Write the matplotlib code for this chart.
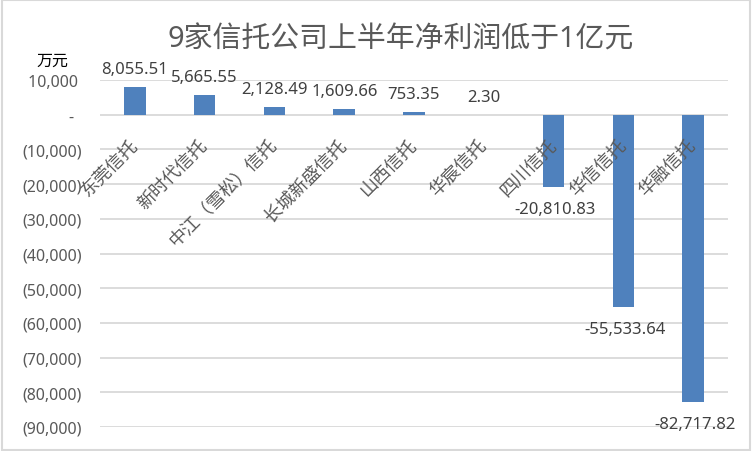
import numpy as np
import matplotlib
matplotlib.use("Agg")
import matplotlib.pyplot as plt
from matplotlib.transforms import offset_copy
from matplotlib.patches import Rectangle

plt.rcParams['font.family'] = ['Noto Sans', 'Noto Sans CJK SC', 'DejaVu Sans']

companies = ["东莞信托", "新时代信托", "中江（雪松）信托", "长城新盛信托", "山西信托",
             "华宸信托", "四川信托", "华信信托", "华融信托"]
profit = [8055.51, 5665.55, 2128.49, 1609.66, 753.35, 2.30, -20810.83, -55533.64, -82717.82]
yticks = [10000, 0, -10000, -20000, -30000, -40000, -50000, -60000, -70000, -80000, -90000]

title = "9家信托公司上半年净利润低于1亿元"
unit = "万元"

bar_color = "#4F81BD"
grid_color = "#D9D9D9"
txt_grey = "#595959"
lbl_dark = "#404040"


def fmt_tick(v):
    if v == 0:
        return "-  "
    if v < 0:
        return "({:,.0f})".format(-v)
    return "{:,.0f} ".format(v)


fig = plt.figure(figsize=(7.52, 4.52), dpi=100)
ax = fig.add_axes([100 / 752, 1 - 428 / 452, 628 / 752, (428 - 81) / 452])

x = np.arange(len(companies))
ax.bar(x, profit, width=0.31, color=bar_color, zorder=2)

ax.set_xlim(-0.5, len(companies) - 0.5)
ax.set_ylim(-90000, 10000)
ax.set_yticks(yticks)
ax.set_yticklabels([fmt_tick(v) for v in yticks], fontsize=11.5, color=txt_grey)
ax.tick_params(axis='y', length=0, pad=13)
ax.set_xticks([])
ax.yaxis.grid(True, color=grid_color, linewidth=1.3, zorder=0)
for s in ax.spines.values():
    s.set_visible(False)

# data labels
for xi, v in zip(x, profit):
    if v >= 0:
        tr = offset_copy(ax.transData, fig=fig, x=0, y=14, units='dots')
        ax.text(xi, v, "{:,.2f}".format(v), transform=tr, ha='center', va='baseline',
                fontsize=12, color=lbl_dark)
    else:
        tr = offset_copy(ax.transData, fig=fig, x=2, y=-22, units='dots')
        ax.text(xi, v, "{:,.2f}".format(v), transform=tr, ha='center', va='center',
                fontsize=12, color=lbl_dark)

# category labels next to the zero line
for xi, name in zip(x, companies):
    tr = offset_copy(ax.transData, fig=fig, x=0, y=-27, units='dots')
    ax.text(xi, 0, name, transform=tr, ha='right', va='center', rotation=45,
            rotation_mode='anchor', fontsize=13, color=txt_grey, zorder=3)

fig.text(401 / 752, 1 - 40 / 452, title, ha='center', va='center', fontsize=20.8, color=txt_grey)
fig.text(52 / 752, 1 - 62 / 452, unit, ha='center', va='center', fontsize=11.5, color='black')

fig.patches.append(Rectangle((0.002, 0.003), 0.995, 0.994, transform=fig.transFigure,
                             fill=False, edgecolor=grid_color, linewidth=1.5))

fig.savefig("out.png", dpi=100)
